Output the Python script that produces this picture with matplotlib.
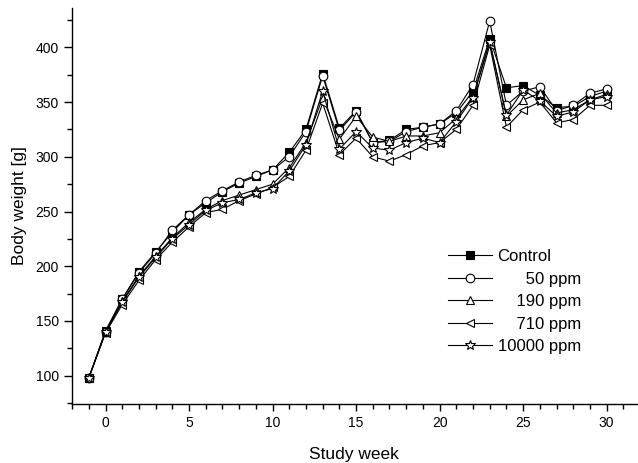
import matplotlib
matplotlib.use("Agg")
import matplotlib.pyplot as plt
from matplotlib.ticker import MultipleLocator

plt.rcParams["font.family"] = ["Liberation Sans", "DejaVu Sans"]

weeks = list(range(-1, 31))

control = [98, 141, 170, 195, 213, 231, 247, 258, 268, 276, 282, 288, 304, 325, 376, 326,
           342, 313, 315, 325, 327, 330, 340, 360, 408, 363, 365, 356, 345, 346, 355, 360]
ppm50 = [98, 140, 170, 194, 212, 233, 247, 260, 269, 277, 283, 288, 300, 323, 374, 324,
         341, 313, 314, 323, 327, 330, 342, 366, 424, 347, 360, 364, 342, 347, 358, 362]
ppm190 = [98, 140, 168, 191, 209, 226, 240, 252, 260, 265, 270, 275, 290, 313, 354, 316,
          337, 318, 314, 319, 319, 322, 335, 355, 405, 337, 352, 358, 340, 343, 352, 357]
ppm710 = [98, 139, 165, 187, 206, 222, 236, 249, 252, 260, 266, 272, 282, 306, 349, 302,
          317, 300, 296, 302, 310, 313, 325, 347, 402, 327, 343, 350, 331, 334, 347, 347]
ppm10000 = [98, 140, 167, 190, 208, 225, 238, 251, 258, 261, 267, 271, 287, 311, 360, 307,
            323, 308, 306, 313, 317, 313, 332, 354, 405, 338, 361, 351, 337, 341, 352, 355]

# figure spaces keep the dose labels right-aligned like the original legend
labels = ["Control", "\u2007\u2007\u200750 ppm", "\u2007\u2007190 ppm",
          "\u2007\u2007710 ppm", "10000 ppm"]

series = [
    (control, "s", "black"),
    (ppm50, "o", "white"),
    (ppm190, "^", "white"),
    (ppm710, "<", "white"),
    (ppm10000, "*", "white"),
]

fig = plt.figure(figsize=(6.38, 4.63), dpi=100)
ax = fig.add_axes([0.113, 0.127, 0.885, 0.856])

for (vals, marker, face), label in zip(series, labels):
    ms = 7.5 if marker == "*" else 6.2
    ax.plot(weeks, vals, color="black", linewidth=0.8, marker=marker,
            markersize=ms, markerfacecolor=face, markeredgecolor="black",
            markeredgewidth=0.8, label=label)

ax.set_xlim(-2, 31.8)
ax.set_ylim(74, 436)
ax.xaxis.set_major_locator(MultipleLocator(5))
ax.xaxis.set_minor_locator(MultipleLocator(1))
ax.yaxis.set_major_locator(MultipleLocator(50))
ax.yaxis.set_minor_locator(MultipleLocator(25))
ax.tick_params(which="major", direction="out", length=6, width=1, labelsize=10)
ax.tick_params(which="minor", direction="out", length=3.5, width=1)
ax.tick_params(axis="x", which="major", length=5)
ax.yaxis.set_major_formatter(plt.FuncFormatter(lambda v, p: f"{int(v)}" if v >= 100 else ""))

for side in ["top", "right"]:
    ax.spines[side].set_visible(False)
for side in ["left", "bottom"]:
    ax.spines[side].set_linewidth(1)

ax.set_xlabel("Study week", fontsize=12.5, labelpad=12)
ax.set_ylabel("Body weight [g]", fontsize=12.5, labelpad=6)

ax.legend(loc="center", bbox_to_anchor=(0.783, 0.259), frameon=False, fontsize=12,
          handlelength=2.64, handletextpad=0.36, labelspacing=0.45, borderpad=0)

fig.savefig("out.png", dpi=100)
